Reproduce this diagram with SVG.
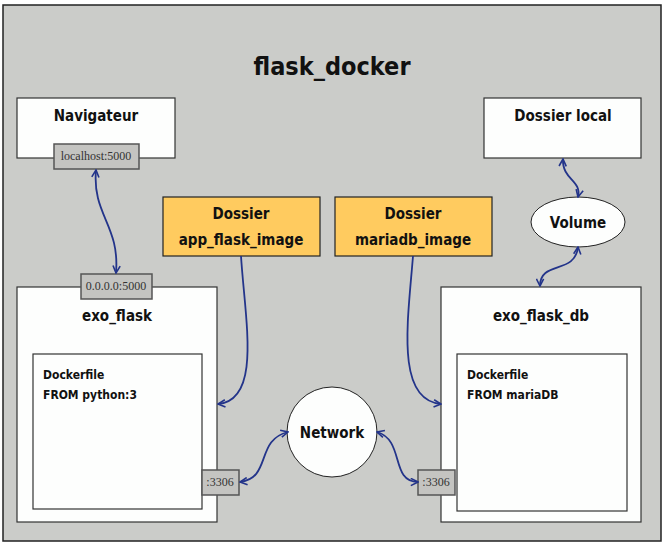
<svg xmlns="http://www.w3.org/2000/svg" width="667" height="547" viewBox="0 0 667 547">
<defs>
<style>
.frame{fill:#cbccc9;stroke:#222;stroke-width:1.5}
.box{fill:#fdfefd;stroke:#333;stroke-width:1.2}
.folder{fill:#ffcb5f;stroke:#222;stroke-width:1.2}
.port{fill:#c4c4c1;stroke:#555;stroke-width:1.5}
.hand{font-family:"DejaVu Sans Condensed","Liberation Sans Narrow",sans-serif;font-weight:bold;fill:#111;text-anchor:middle}
.lbl{font-size:15px}
.small{font-size:12px;text-anchor:start}
.ptxt{font-family:"Liberation Serif",serif;font-size:12px;fill:#333;text-anchor:middle}
.conn{fill:none;stroke:#23348a;stroke-width:1.8}
</style>
<marker id="ah" viewBox="0 0 10 10" refX="9" refY="5" markerWidth="9" markerHeight="9" markerUnits="userSpaceOnUse" orient="auto-start-reverse">
<path d="M1,1 L9,5 L1,9" fill="none" stroke="#23348a" stroke-width="1.8"/>
</marker>
</defs>
<g id="flask_docker">
<rect class="frame" x="3" y="5" width="658" height="536"/>
<text class="hand" x="332" y="75" font-size="25">flask_docker</text>
</g>
<g id="navigateur">
<rect class="box" x="17" y="98" width="158" height="60"/>
<text class="hand lbl" x="96" y="121">Navigateur</text>
</g>
<g id="dossier_local">
<rect class="box" x="484" y="98" width="157" height="60"/>
<text class="hand lbl" x="563" y="121">Dossier local</text>
</g>
<g id="app_flask_image">
<rect class="folder" x="163" y="197" width="157" height="59"/>
<text class="hand lbl" x="241" y="219">Dossier</text>
<text class="hand lbl" x="241" y="245">app_flask_image</text>
</g>
<g id="mariadb_image">
<rect class="folder" x="335" y="197" width="157" height="59"/>
<text class="hand lbl" x="413" y="219">Dossier</text>
<text class="hand lbl" x="413" y="245">mariadb_image</text>
</g>
<g id="volume">
<ellipse cx="578" cy="222" rx="47" ry="25" fill="#fdfefd" stroke="#222" stroke-width="1"/>
<text class="hand lbl" x="578" y="228">Volume</text>
</g>
<g id="exo_flask">
<rect class="box" x="17" y="287" width="200" height="235"/>
<text class="hand lbl" x="117" y="321">exo_flask</text>
<rect class="box" x="33" y="354" width="169" height="155" stroke="#111"/>
<text class="hand small" x="43" y="379">Dockerfile</text>
<text class="hand small" x="43" y="399">FROM python:3</text>
</g>
<g id="exo_flask_db">
<rect class="box" x="441" y="287" width="200" height="235"/>
<text class="hand lbl" x="541" y="321">exo_flask_db</text>
<rect class="box" x="457" y="354" width="170" height="157" stroke="#111"/>
<text class="hand small" x="467" y="379">Dockerfile</text>
<text class="hand small" x="467" y="399">FROM mariaDB</text>
</g>
<g id="network">
<circle cx="332" cy="432" r="45" fill="#fdfefd" stroke="#222" stroke-width="1"/>
<text class="hand lbl" x="332" y="438">Network</text>
</g>
<g id="ports">
<rect class="port" x="54" y="144" width="85" height="25"/>
<text class="ptxt" x="96" y="160">localhost:5000</text>
<rect class="port" x="81" y="274" width="71" height="25"/>
<text class="ptxt" x="116" y="290">0.0.0.0:5000</text>
<rect class="port" x="202" y="470" width="37" height="25"/>
<text class="ptxt" x="220" y="486">:3306</text>
<rect class="port" x="418" y="470" width="37" height="25"/>
<text class="ptxt" x="436" y="486">:3306</text>
</g>
<g id="connectors">
<path class="conn" d="M96,170 C92,215 120,225 116,273" marker-start="url(#ah)" marker-end="url(#ah)"/>
<path class="conn" d="M241,256 C245,320 262,400 218,404" marker-end="url(#ah)"/>
<path class="conn" d="M413,256 C408,320 395,400 441,404" marker-end="url(#ah)"/>
<path class="conn" d="M563,159 C562,180 582,180 578,197" marker-start="url(#ah)" marker-end="url(#ah)"/>
<path class="conn" d="M578,247 C575,275 540,260 540,286" marker-start="url(#ah)" marker-end="url(#ah)"/>
<path class="conn" d="M288,432 C255,440 272,478 240,482" marker-start="url(#ah)" marker-end="url(#ah)"/>
<path class="conn" d="M377,432 C405,440 390,482 418,482" marker-start="url(#ah)" marker-end="url(#ah)"/>
</g>
</svg>
